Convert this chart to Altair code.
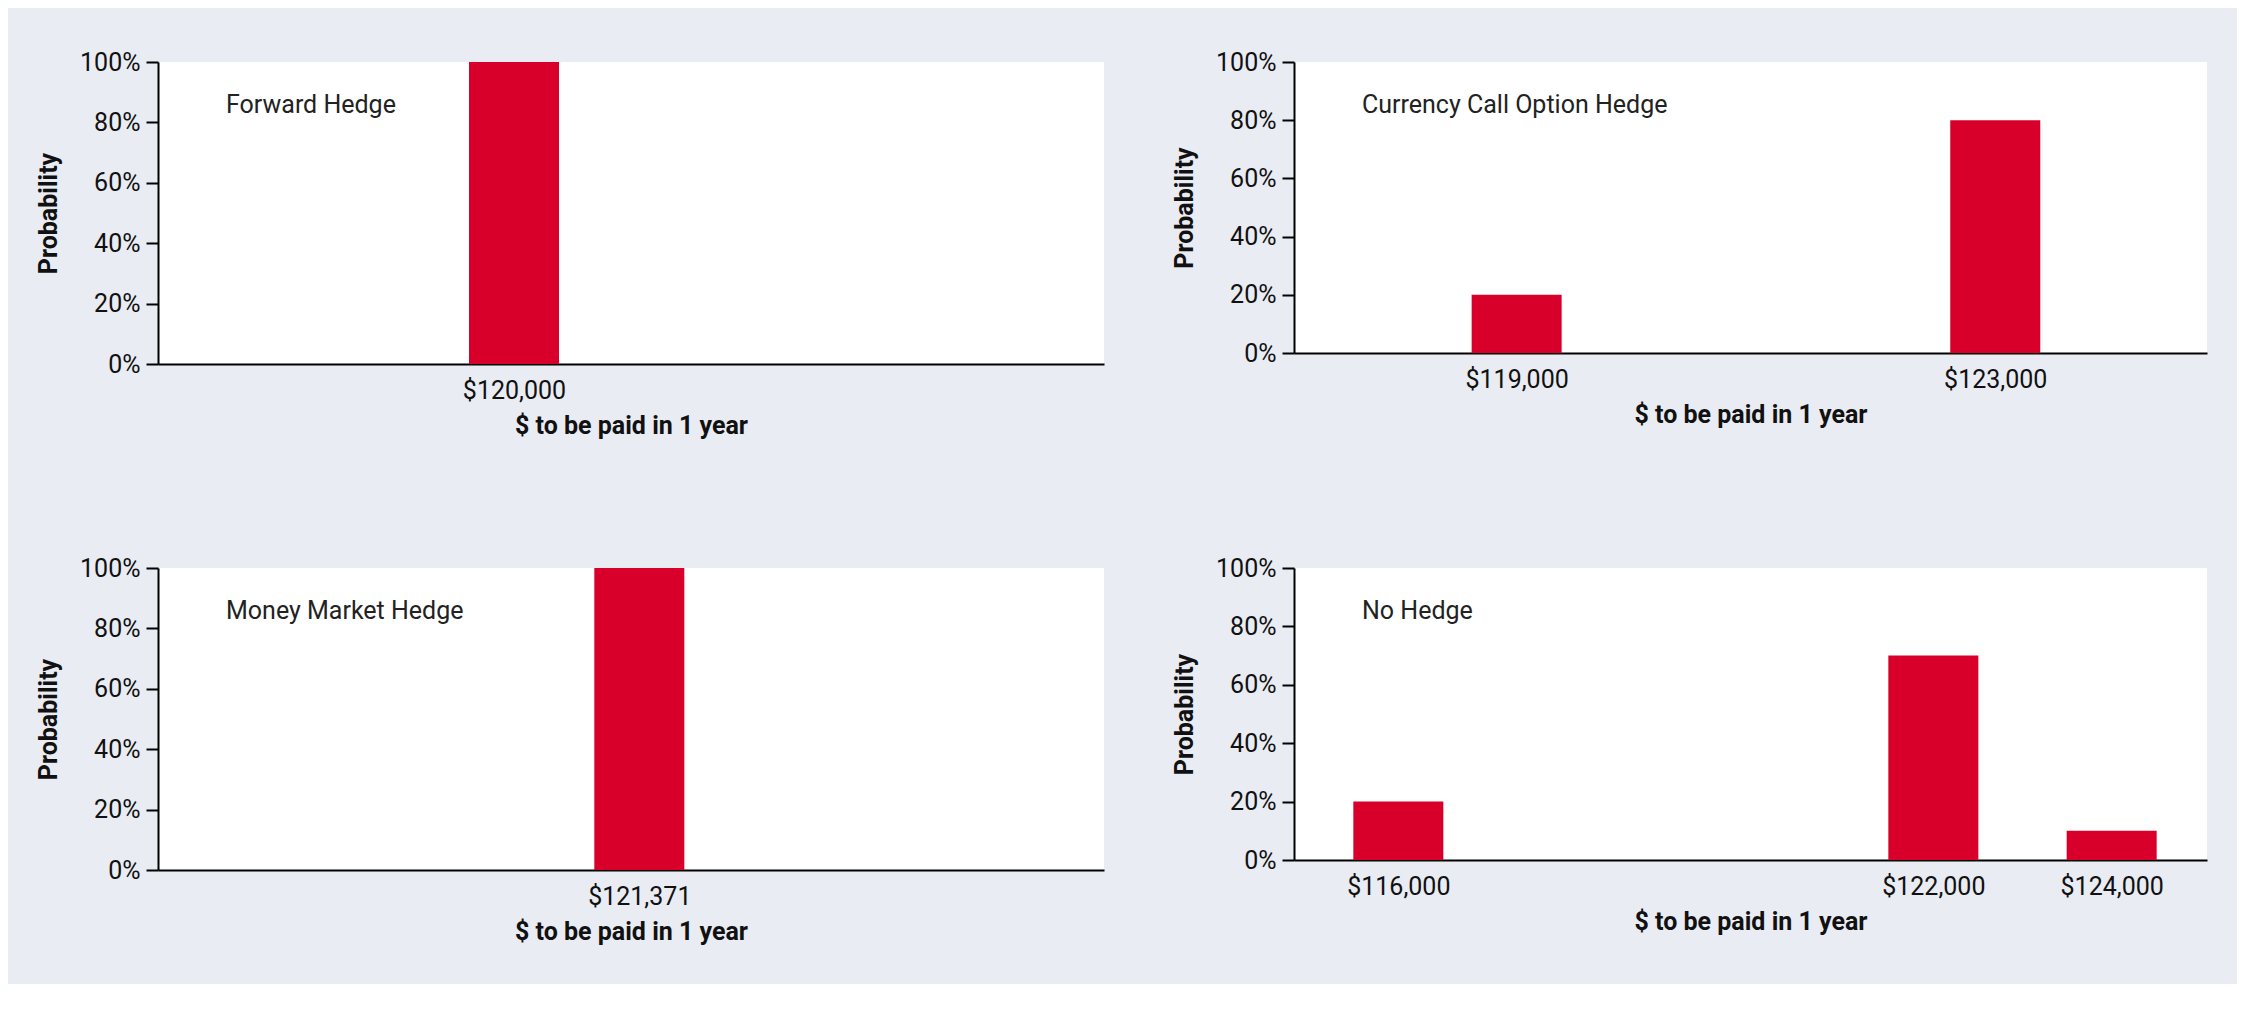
import altair as alt
import pandas as pd

# values
forward_x = [120000]
forward_p = [1.0]
money_x = [121371]
money_p = [1.0]
call_x = [119000, 123000]
call_p = [0.2, 0.8]
nohedge_x = [116000, 122000, 124000]
nohedge_p = [0.2, 0.7, 0.1]

FONT = "Roboto"
RED = "#d8002b"


def panel(xs, ps, label, domain, width, height):
    df = pd.DataFrame({"amount": xs, "prob": ps})
    bars = alt.Chart(df).mark_bar(color=RED, size=90).encode(
        x=alt.X(
            "amount:Q",
            title="$ to be paid in 1 year",
            scale=alt.Scale(domain=domain, nice=False, zero=False),
            axis=alt.Axis(values=xs, format="$,d", tickSize=0, labelPadding=14,
                          grid=False, domainColor="black", domainWidth=2,
                          titlePadding=10),
        ),
        y=alt.Y(
            "prob:Q",
            title="Probability",
            scale=alt.Scale(domain=[0, 1]),
            axis=alt.Axis(values=[0, 0.2, 0.4, 0.6, 0.8, 1.0], format=".0%",
                          tickSize=12, tickColor="black", tickWidth=2,
                          domainColor="black", domainWidth=2, grid=False,
                          labelPadding=6, titlePadding=18),
        ),
    )
    text = alt.Chart(pd.DataFrame({"t": [label]})).mark_text(
        align="left", baseline="middle", fontSize=25, font=FONT, color="#222"
    ).encode(x=alt.value(68), y=alt.value(43), text="t:N")
    return (bars + text).properties(width=width, height=height)


a = panel(forward_x, forward_p, "Forward Hedge", [117000, 125000], 946, 302)
b = panel(call_x, call_p, "Currency Call Option Hedge", [117181, 124728], 913, 291)
c = panel(money_x, money_p, "Money Market Hedge", [117300, 125300], 946, 302)
d = panel(nohedge_x, nohedge_p, "No Hedge", [114886, 125013], 913, 292)

chart = (
    alt.vconcat(
        alt.hconcat(a, b, spacing=68),
        alt.hconcat(c, d, spacing=68),
        spacing=118,
    )
    .properties(background="#e9ecf3", padding={"left": 28, "top": 42, "right": 30, "bottom": 40})
    .configure_view(fill="white", stroke=None)
    .configure_axis(labelFont=FONT, titleFont=FONT, labelFontSize=25,
                    titleFontSize=25, titleFontWeight="bold",
                    labelColor="#111", titleColor="#111")
)

chart.save("out.html", embed_options={"renderer": "svg", "actions": False})
